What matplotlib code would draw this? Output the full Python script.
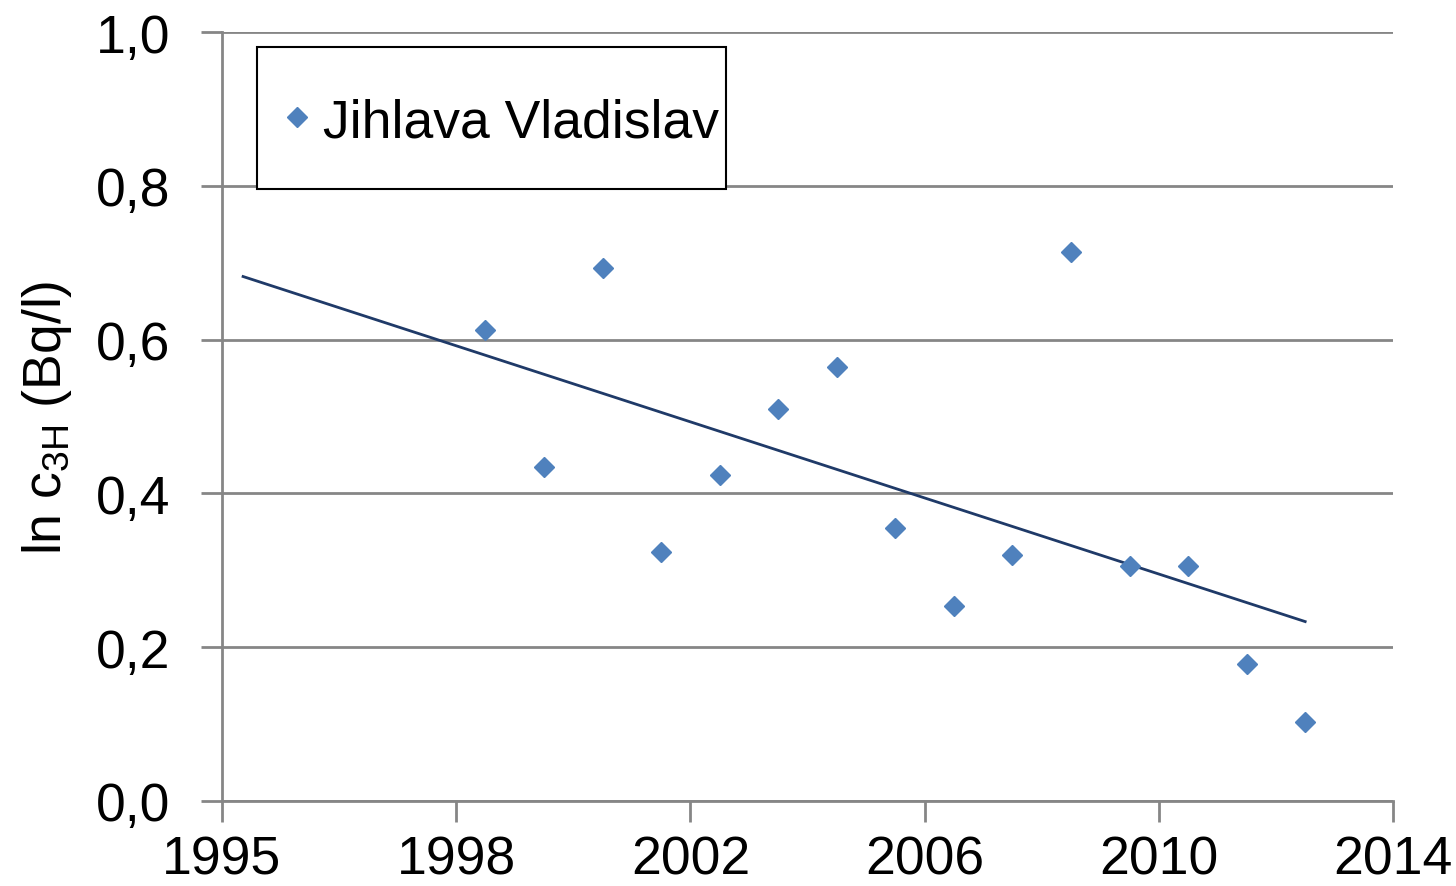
import numpy as np
import matplotlib
matplotlib.use('agg')
import matplotlib.pyplot as plt
from matplotlib.patches import Rectangle

plt.rcParams['font.family'] = ['Liberation Sans', 'DejaVu Sans']
plt.rcParams['mathtext.fontset'] = 'custom'
plt.rcParams['mathtext.rm'] = 'Liberation Sans'

# data
years = [1999, 2000, 2001, 2002, 2003, 2004, 2005, 2006,
         2007, 2008, 2009, 2010, 2011, 2012, 2013]
ln_c = [0.612, 0.434, 0.693, 0.324, 0.424, 0.510, 0.564, 0.355,
        0.254, 0.320, 0.714, 0.306, 0.306, 0.178, 0.103]
series_name = "Jihlava Vladislav"

x_ticks = [1994.5, 1998.5, 2002.5, 2006.5, 2010.5, 2014.5]
x_tick_labels = ["1995", "1998", "2002", "2006", "2010", "2014"]
y_ticks = [0.0, 0.2, 0.4, 0.6, 0.8, 1.0]
y_tick_labels = ["0,0", "0,2", "0,4", "0,6", "0,8", "1,0"]

blue = '#4F81BD'
navy = '#1F3A68'
grey = '#868686'
fs = 38.5

fig = plt.figure(figsize=(14.56, 8.87), dpi=100)
ax = fig.add_axes([222/1456, 1 - 802/887, 1171/1456, 769/887])

# linear trend (with backward forecast like the original)
k, q = np.polyfit(years, ln_c, 1)
tx = np.array([1994.86, years[-1]])
ax.plot(tx, k*tx + q, color=navy, lw=2, zorder=3)

ax.plot(years, ln_c, linestyle='none', marker='D', ms=10,
        color=blue, mec=blue, zorder=4, label=series_name)

ax.set_xlim(1994.5, 2014.5)
ax.set_ylim(0, 1.0)
ax.set_xticks(x_ticks)
ax.set_xticklabels(x_tick_labels)
ax.set_yticks(y_ticks)
ax.set_yticklabels(y_tick_labels)
ax.yaxis.grid(True, color=grey, lw=2)
ax.set_axisbelow(True)

for s in ['top', 'right']:
    ax.spines[s].set_visible(False)
for s in ['left', 'bottom']:
    ax.spines[s].set_color(grey)
    ax.spines[s].set_linewidth(2)
ax.tick_params(axis='both', colors=grey, width=2, length=15,
               labelcolor='black', labelsize=fs)
ax.tick_params(axis='x', pad=9)
ax.tick_params(axis='y', pad=22)

ax.set_ylabel(r'ln c$_{\mathregular{3H}}$ (Bq/l)', fontsize=fs, labelpad=16)

# legend box
ax.add_patch(Rectangle(((257-222)/1171, (802-190)/769), (726-257)/1171,
                       (190-48)/769, transform=ax.transAxes, fill=True,
                       facecolor='white', edgecolor='black', lw=1.5,
                       zorder=5, clip_on=False))
leg = ax.legend(loc='center left', bbox_to_anchor=((280.7-222)/1171, (802-123)/769),
                frameon=False, fontsize=fs, handlelength=0.6,
                handletextpad=0.2, borderpad=0, borderaxespad=0)
leg.set_zorder(6)

fig.savefig('out.png', dpi=100)
